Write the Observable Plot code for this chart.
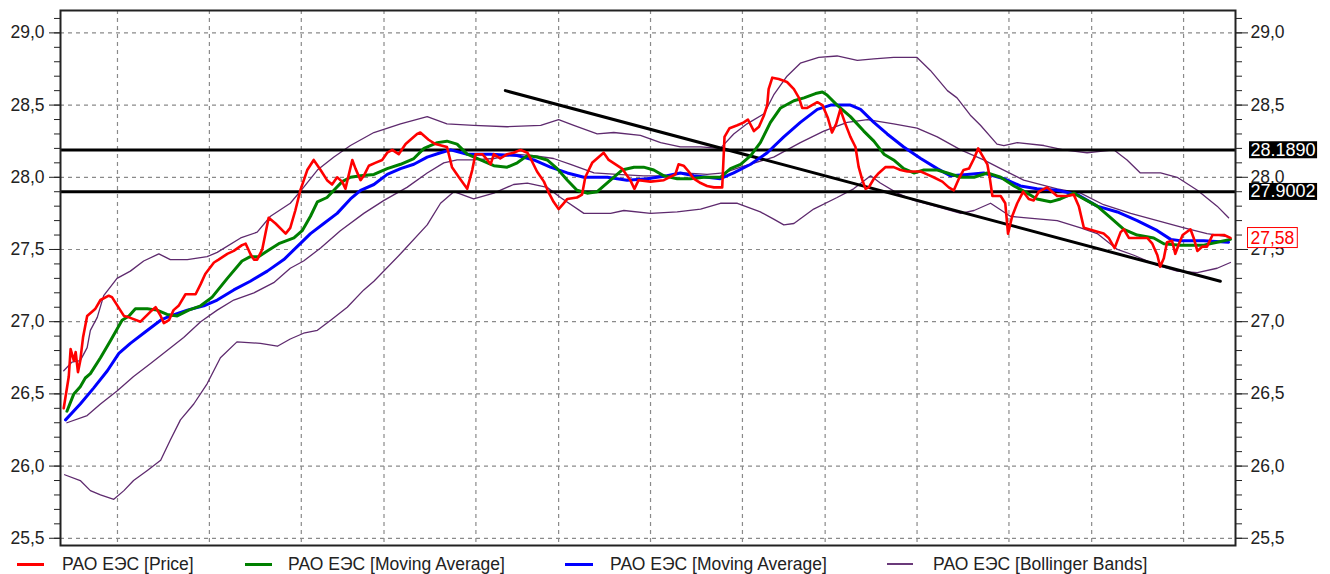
<!DOCTYPE html>
<html><head><meta charset="utf-8">
<script src="https://cdn.jsdelivr.net/npm/d3@7"></script>
<script src="https://cdn.jsdelivr.net/npm/@observablehq/plot@0.6"></script>
<style>
html,body{margin:0;padding:0;background:#fff;}
body{width:1330px;height:574px;overflow:hidden;font-family:"Liberation Sans",Arial,sans-serif;}
#legend{position:relative;height:24px;font-size:17.5px;color:#222;}
.item{position:absolute;top:2px;height:24px;line-height:24px;white-space:nowrap;}
.sw{position:absolute;top:14px;}
</style></head><body>
<div id="chart"></div>
<div id="legend"></div>
<script>
// ---- data (x = trading-day index, y = price) ----
const priceDay = [0.3,1.4,1.8,2.5,2.9,3.4,3.9,4.5,5.4,7.2,8.3,10.1,10.8,13.4,14.5,17.0,19.2,20.3,21.4,22.1,23.2,24.2,25.3,26.8,29.0,30.1,31.1,33.0,34.0,35.9,37.3,39.1,39.9,40.9,41.7,42.4,43.5,44.2,44.9,46.4,48.6,49.6,50.7,51.8,53.3,54.7,56.2,57.6,58.7,59.8,60.9,61.6,63.1,63.8,64.9,65.6,66.7,68.1,69.6,70.7,71.8,73.2,74.7,77.2,77.9,79.7,81.2,83.7,84.8,86.3,88.1,89.2,89.9,91.4,92.5,93.2,93.9,95.3,96.8,98.2,99.7,101.2,101.9,103.3,104.8,105.9,106.9,108.0,109.1,109.9,112.0,113.1,113.8,115.3,117.8,118.9,121.8,123.6,124.5,125.4,128.0,130.9,133.4,134.1,135.2,136.3,137.4,138.9,140.3,141.8,143.6,144.1,145.2,146.9,148.3,149.2,150.5,151.6,152.7,153.4,153.7,154.5,155.9,157.7,159.2,160.3,161.0,162.1,164.3,165.4,166.6,167.5,168.4,169.3,170.4,171.5,172.6,173.3,174.1,174.8,175.5,176.6,177.7,179.1,180.9,182.4,183.9,186.8,188.2,189.6,191.5,192.9,194.0,195.1,196.1,197.3,198.4,199.3,200.2,201.3,201.8,202.4,204.2,205.2,205.8,206.7,207.8,209.1,210.3,211.4,212.5,214.3,216.5,218.7,220.1,221.2,222.3,224.5,226.6,227.7,229.0,230.3,231.0,232.1,236.1,237.2,238.3,238.9,239.7,240.4,241.5,242.2,243.0,243.8,245.5,246.2,247.0,248.1,249.1,250.3,252.8,254.2];
const priceVal = [26.40,26.62,26.81,26.73,26.79,26.65,26.73,26.89,27.04,27.09,27.15,27.18,27.17,27.04,27.03,27.00,27.07,27.10,27.04,26.99,27.01,27.08,27.11,27.19,27.19,27.26,27.33,27.41,27.43,27.47,27.49,27.53,27.54,27.47,27.43,27.43,27.50,27.61,27.72,27.68,27.61,27.65,27.77,27.91,28.05,28.12,28.05,27.98,27.95,28.00,27.97,27.92,28.12,28.06,27.98,28.01,28.08,28.10,28.12,28.17,28.19,28.16,28.23,28.30,28.31,28.26,28.23,28.21,28.07,28.00,27.92,28.05,28.16,28.16,28.12,28.09,28.16,28.13,28.16,28.17,28.19,28.17,28.13,28.04,27.97,27.89,27.83,27.78,27.82,27.85,27.86,27.88,28.00,28.10,28.17,28.12,28.06,27.98,27.92,27.98,27.97,27.98,28.02,28.09,28.08,28.04,27.99,27.96,27.94,27.93,27.93,28.28,28.34,28.36,28.38,28.40,28.32,28.35,28.43,28.50,28.61,28.69,28.68,28.66,28.61,28.55,28.48,28.48,28.52,28.50,28.41,28.31,28.37,28.47,28.37,28.28,28.21,28.07,27.98,27.92,27.93,27.99,28.03,28.07,28.07,28.05,28.04,28.04,28.02,28.00,27.97,27.93,27.91,27.99,28.05,28.06,28.13,28.20,28.15,28.09,28.00,27.87,27.87,27.82,27.61,27.73,27.82,27.90,27.85,27.84,27.90,27.93,27.87,27.87,27.88,27.80,27.65,27.63,27.61,27.58,27.51,27.62,27.64,27.58,27.58,27.54,27.46,27.38,27.44,27.55,27.56,27.47,27.54,27.60,27.64,27.58,27.49,27.52,27.52,27.60,27.60,27.58];

const maShortDay = [1.0,2.5,3.9,5.0,6.1,8.3,10.5,13.0,14.5,15.9,18.5,20.6,22.8,25.0,27.5,30.1,32.6,35.9,39.1,40.9,42.7,44.6,47.1,50.4,52.2,54.0,55.5,57.6,59.4,60.9,62.7,64.9,67.8,70.7,73.6,76.5,78.7,81.6,83.7,85.9,88.1,91.0,93.9,96.8,99.0,101.2,103.3,105.5,107.7,109.9,112.0,114.2,116.4,118.9,121.8,124.4,126.5,128.7,130.9,133.8,136.7,139.6,143.2,145.4,147.6,149.8,151.9,154.1,156.3,159.2,161.4,163.9,165.4,166.4,168.6,171.5,174.4,176.6,178.8,180.9,183.1,185.3,187.5,190.4,192.6,195.5,198.4,201.3,204.2,207.1,210.0,212.1,215.0,217.2,220.1,222.3,225.2,228.1,231.0,233.9,237.5,239.7,243.3,248.4,251.3,254.2];
const maShortVal = [26.38,26.50,26.55,26.61,26.64,26.75,26.87,27.01,27.04,27.09,27.09,27.08,27.05,27.04,27.08,27.11,27.17,27.30,27.42,27.45,27.45,27.49,27.54,27.58,27.63,27.73,27.83,27.86,27.92,27.97,28.00,28.01,28.02,28.06,28.09,28.13,28.20,28.24,28.25,28.23,28.16,28.12,28.08,28.07,28.10,28.15,28.14,28.12,28.06,27.98,27.91,27.89,27.90,27.97,28.05,28.07,28.07,28.05,28.01,27.99,27.99,28.00,28.00,28.06,28.09,28.15,28.24,28.38,28.48,28.53,28.55,28.58,28.59,28.57,28.50,28.42,28.32,28.25,28.16,28.12,28.06,28.03,28.05,28.05,28.03,28.00,28.00,28.03,28.00,27.94,27.89,27.85,27.83,27.85,27.89,27.85,27.80,27.72,27.64,27.60,27.58,27.54,27.53,27.53,27.55,27.57];

const maLongDay = [0.7,3.9,6.8,9.8,12.3,14.8,18.1,21.4,23.5,27.2,30.8,33.7,37.3,40.9,44.6,48.2,51.1,54.0,56.9,59.8,62.7,64.9,67.8,70.7,73.6,76.5,79.4,82.3,84.5,88.1,93.2,99.0,102.6,106.2,109.9,113.5,118.6,122.9,127.3,131.6,134.5,137.4,140.3,143.2,146.1,149.8,153.4,157.0,160.6,164.3,167.2,171.5,173.7,176.6,179.5,183.1,186.8,190.4,193.3,196.9,200.5,204.9,208.5,212.1,216.5,220.9,225.2,229.6,233.9,238.3,241.2,243.3,248.4,253.8];
const maLongVal = [26.32,26.43,26.54,26.66,26.78,26.85,26.93,27.01,27.04,27.08,27.11,27.15,27.22,27.28,27.35,27.43,27.52,27.61,27.68,27.75,27.85,27.91,27.95,28.02,28.06,28.09,28.14,28.17,28.19,28.16,28.16,28.15,28.12,28.07,28.03,28.00,28.00,27.98,27.99,28.01,28.03,28.01,28.00,27.99,28.03,28.09,28.17,28.28,28.38,28.47,28.50,28.50,28.47,28.38,28.30,28.21,28.13,28.06,28.01,28.02,28.03,27.99,27.94,27.92,27.91,27.88,27.80,27.76,27.70,27.63,27.57,27.56,27.56,27.55];

const bbUpperDay = [0.3,2.1,3.9,5.4,6.1,7.6,9.0,11.9,14.8,17.7,21.0,23.5,27.2,31.5,33.7,38.8,42.4,45.3,49.6,52.5,55.5,59.1,62.7,67.8,73.6,79.4,83.7,89.5,96.8,104.1,108.0,111.3,116.4,120.0,125.8,130.2,134.5,138.9,143.2,146.1,149.0,152.7,154.8,157.7,160.6,164.6,168.6,173.0,176.6,180.9,186.0,188.9,192.6,194.7,197.6,199.8,203.4,204.9,207.8,213.6,217.9,223.0,228.8,231.7,234.6,239.0,242.6,247.0,251.3,253.8];
const bbUpperVal = [26.66,26.72,26.73,26.82,26.94,27.03,27.18,27.30,27.35,27.42,27.47,27.43,27.43,27.45,27.48,27.58,27.62,27.73,27.82,27.93,28.05,28.14,28.22,28.31,28.37,28.42,28.37,28.36,28.35,28.36,28.40,28.36,28.30,28.31,28.29,28.24,28.21,28.21,28.20,28.30,28.37,28.44,28.57,28.70,28.79,28.83,28.84,28.81,28.82,28.83,28.83,28.74,28.60,28.55,28.43,28.36,28.23,28.22,28.24,28.22,28.19,28.17,28.19,28.12,28.03,28.03,28.00,27.91,27.80,27.72];

const bbMiddleDay = [1.0,5.4,8.3,11.9,15.5,19.2,22.8,26.4,30.1,33.7,37.3,41.7,46.0,49.6,52.5,56.2,60.5,65.6,70.0,75.0,79.4,83.0,85.9,89.5,93.9,98.2,102.6,106.9,110.6,115.7,120.7,126.5,130.9,135.2,140.3,143.9,147.6,154.8,160.6,165.7,170.8,175.2,180.9,186.0,190.4,195.5,200.5,204.2,209.2,216.5,221.6,226.6,232.5,238.3,244.1,249.1,253.5];
const bbMiddleVal = [26.30,26.35,26.43,26.52,26.62,26.71,26.80,26.89,27.00,27.08,27.15,27.20,27.27,27.37,27.42,27.51,27.63,27.75,27.84,27.93,28.03,28.10,28.12,28.12,28.13,28.16,28.15,28.13,28.09,28.03,28.02,28.01,28.01,28.03,28.02,28.03,28.07,28.14,28.24,28.32,28.38,28.40,28.37,28.34,28.28,28.19,28.12,28.06,27.98,27.92,27.89,27.81,27.75,27.70,27.65,27.61,27.59];

const bbLowerDay = [0.5,3.9,6.1,8.3,11.2,13.4,15.5,18.5,21.4,23.5,25.7,28.6,31.5,34.4,38.0,43.1,46.8,49.6,52.5,55.5,58.4,62.0,65.6,67.8,73.6,79.4,82.3,85.2,89.5,93.9,98.2,101.2,105.5,108.4,113.5,119.3,122.2,128.0,133.8,138.9,143.2,146.9,151.9,154.8,157.0,159.2,163.5,168.6,172.2,175.9,178.0,181.7,185.3,191.1,195.5,198.4,202.0,206.3,209.2,216.5,221.6,225.2,229.6,233.2,238.3,242.6,247.0,251.3,254.2];
const bbLowerVal = [25.94,25.90,25.83,25.80,25.77,25.83,25.90,25.97,26.04,26.18,26.32,26.43,26.57,26.75,26.86,26.85,26.83,26.88,26.92,26.94,27.01,27.10,27.22,27.28,27.47,27.67,27.82,27.90,27.85,27.89,27.95,27.96,27.93,27.86,27.75,27.75,27.77,27.75,27.76,27.78,27.82,27.82,27.76,27.71,27.67,27.68,27.78,27.86,27.92,28.01,27.96,27.89,27.84,27.79,27.75,27.77,27.82,27.73,27.72,27.70,27.65,27.61,27.50,27.46,27.39,27.35,27.34,27.37,27.41];

const trendDay = [96.4, 252.0];
const trendVal = [28.60, 27.28];
const levelVals = [28.1890, 27.9002];
const levelLabels = ["28.1890", "27.9002"];
const lastPrice = 27.58;
const lastPriceLabel = "27,58";

const yMajorTicks = [25.5, 26.0, 26.5, 27.0, 27.5, 28.0, 28.5, 29.0];
const yMinorTicks = d3.range(255, 292).map(d => d / 10);
const xGridTicks = [12, 32, 52, 70, 90, 108, 128, 148, 166, 186, 206, 224, 244];

const seriesNames = ["РАО ЕЭС [Price]", "РАО ЕЭС [Moving Average]", "РАО ЕЭС [Moving Average]", "РАО ЕЭС [Bollinger Bands]"];
const seriesColors = ["#ff0000", "#008000", "#0000ff", "#6a3a7a"];

// ---- build ----
const pts = (days, vals) => days.map((d, i) => ({day: d, value: vals[i]}));
const price = pts(priceDay, priceVal);
const maShort = pts(maShortDay, maShortVal);
const maLong = pts(maLongDay, maLongVal);
const bbU = pts(bbUpperDay, bbUpperVal);
const bbM = pts(bbMiddleDay, bbMiddleVal);
const bbL = pts(bbLowerDay, bbLowerVal);
const trend = pts(trendDay, trendVal);
const fmt = d => d.toFixed(1).replace(".", ",");
const bandColor = "#5e2a6e";
const gridOpts = {stroke: "#8a8a8a", strokeOpacity: 1, strokeWidth: 1.2, strokeDasharray: "4,4"};

const chart = Plot.plot({
  width: 1330, height: 550,
  marginTop: 10, marginBottom: 5, marginLeft: 60, marginRight: 95,
  x: {domain: [-0.4, 255.3], axis: null},
  y: {domain: [25.45, 29.155], axis: null, label: null},
  style: {fontFamily: "'Liberation Sans', Arial, sans-serif", fontSize: "17.5px", color: "#222", background: "#fff", overflow: "visible"},
  marks: [
    Plot.gridX({ticks: xGridTicks, ...gridOpts}),
    Plot.gridY({ticks: yMajorTicks, ...gridOpts}),
    Plot.line(bbU, {x: "day", y: "value", stroke: bandColor, strokeWidth: 1.3}),
    Plot.line(bbM, {x: "day", y: "value", stroke: bandColor, strokeWidth: 1.3}),
    Plot.line(bbL, {x: "day", y: "value", stroke: bandColor, strokeWidth: 1.3}),
    Plot.ruleY(levelVals, {stroke: "#000", strokeWidth: 3}),
    Plot.line(trend, {x: "day", y: "value", stroke: "#000", strokeWidth: 3}),
    Plot.line(maLong, {x: "day", y: "value", stroke: seriesColors[2], strokeWidth: 3, strokeLinejoin: "round"}),
    Plot.line(maShort, {x: "day", y: "value", stroke: seriesColors[1], strokeWidth: 3, strokeLinejoin: "round"}),
    Plot.line(price, {x: "day", y: "value", stroke: seriesColors[0], strokeWidth: 2.6, strokeLinejoin: "round"}),
    Plot.frame({stroke: "#222", strokeWidth: 2}),
    Plot.axisY({anchor: "left", ticks: yMinorTicks, tickSize: 6, tickFormat: () => "", label: null, color: "#222"}),
    Plot.axisY({anchor: "left", ticks: yMajorTicks, tickSize: 11, tickPadding: 5, tickFormat: fmt, label: null, color: "#222"}),
    Plot.axisY({anchor: "right", ticks: yMinorTicks, tickSize: 6, tickFormat: () => "", label: null, color: "#222"}),
    Plot.axisY({anchor: "right", ticks: yMajorTicks, tickSize: 12, tickPadding: 3, tickFormat: fmt, label: null, color: "#222"}),
    Plot.text(levelVals, {y: d => d, text: (d, i) => levelLabels[i], frameAnchor: "right", dx: 15, textAnchor: "start", fill: "#fff", fontSize: 18}),
    Plot.text([lastPrice], {y: d => d, text: () => lastPriceLabel, frameAnchor: "right", dx: 15, textAnchor: "start", fill: "#ff0000", fontSize: 17.5})
  ]
});
document.getElementById("chart").appendChild(chart);

// background boxes behind the right-hand value labels
function boxes(labels, fill, stroke, padX, h) {
  Array.from(chart.querySelectorAll("text")).filter(t => labels.includes(t.textContent.trim())).forEach(t => {
    const b = t.getBBox();
    const r = document.createElementNS("http://www.w3.org/2000/svg", "rect");
    r.setAttribute("x", b.x - padX);
    r.setAttribute("y", b.y + (b.height - h) / 2);
    r.setAttribute("width", b.width + 2 * padX);
    r.setAttribute("height", h);
    r.setAttribute("fill", fill);
    if (stroke) { r.setAttribute("stroke", stroke); r.setAttribute("stroke-width", 1); }
    const tr = t.getAttribute("transform");
    if (tr) r.setAttribute("transform", tr);
    t.parentNode.insertBefore(r, t);
  });
}
boxes(levelLabels, "#000", null, 1.5, 17);
boxes([lastPriceLabel], "#fff", "#ff0000", 3, 20);

// legend
const legendPos = [{sw: 17, sww: 27, tx: 62, w: 3}, {sw: 245, sww: 27, tx: 288, w: 3}, {sw: 565, sww: 28, tx: 610, w: 3}, {sw: 887, sww: 26, tx: 933, w: 2}];
const lg = document.getElementById("legend");
seriesNames.forEach((name, i) => {
  const p = legendPos[i];
  const s = document.createElement("div");
  s.className = "sw";
  s.style.left = p.sw + "px"; s.style.width = p.sww + "px"; s.style.height = p.w + "px";
  s.style.marginTop = (-p.w / 2) + "px";
  s.style.background = seriesColors[i];
  lg.appendChild(s);
  const t = document.createElement("div");
  t.className = "item";
  t.style.left = p.tx + "px";
  t.textContent = name;
  lg.appendChild(t);
});
</script></body></html>
